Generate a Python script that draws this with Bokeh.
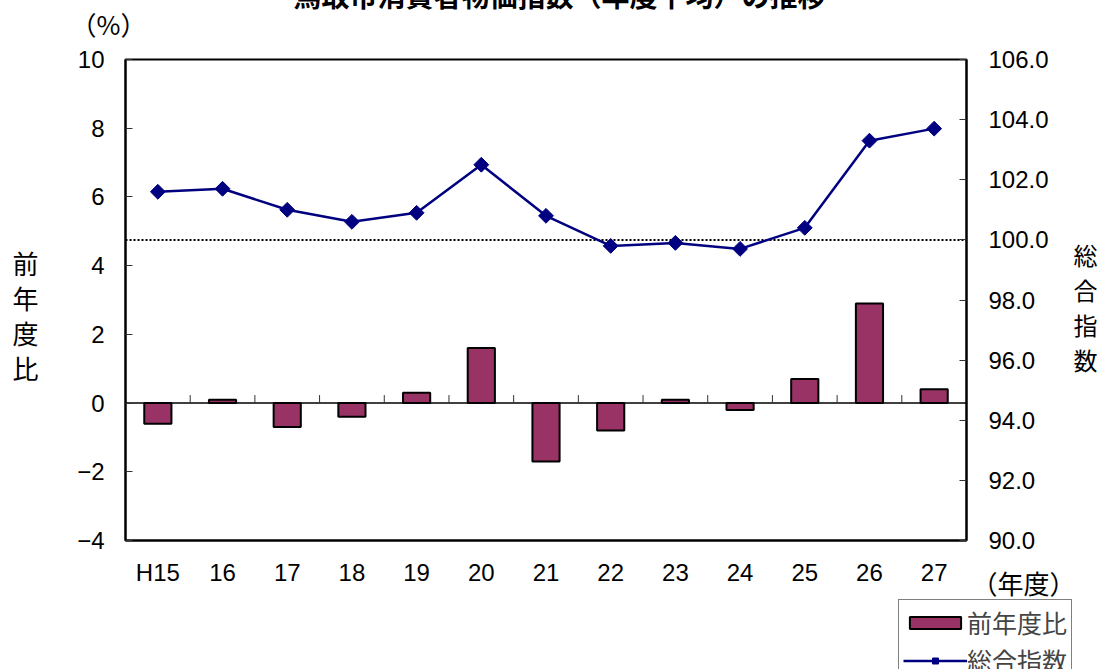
import math
from bokeh.plotting import figure
from bokeh.models import (Range1d, LinearAxis, FixedTicker, Label, Legend, LegendItem)
from bokeh.embed import file_html
from bokeh.resources import INLINE

# ---------------- data ----------------
years = ["H15", "16", "17", "18", "19", "20", "21", "22", "23", "24", "25", "26", "27"]
yoy_change = [-0.6, 0.1, -0.7, -0.4, 0.3, 1.6, -1.7, -0.8, 0.1, -0.2, 0.7, 2.9, 0.4]
composite_index = [101.6, 101.7, 101.0, 100.6, 100.9, 102.5, 100.8, 99.8, 99.9, 99.7,
                   100.4, 103.3, 103.7]
left_ticks = [-4, -2, 0, 2, 4, 6, 8, 10]
left_tick_labels = ["\u22124", "\u22122", "0", "2", "4", "6", "8", "10"]
right_ticks = [90, 92, 94, 96, 98, 100, 102, 104, 106]
right_tick_labels = ["90.0", "92.0", "94.0", "96.0", "98.0", "100.0", "102.0", "104.0", "106.0"]
baseline_index = 100
title_text = "鳥取市消費者物価指数（年度平均）の推移"
left_label = "前年度比"
right_label = "総合指数"
unit_left = "（%）"
unit_x = "（年度）"
legend_labels = ["前年度比", "総合指数"]

NUM_FONT = "Liberation Sans"
JP_FONT = "Noto Sans CJK JP"

# ---------------- layout (canvas px) ----------------
W, H = 1090, 687
PL, PR, PT, PB = 117, 958, 77, 558          # plot area inside the canvas
n = len(years)
x_pos = [i + 0.5 for i in range(n)]

# ranges chosen so that the frame covers the whole canvas and the plot area
# lands at PL..PR / PT..PB
x_ppu = (PR - PL) / n
y_lo, y_hi = left_ticks[0], left_ticks[-1]
r_lo, r_hi = right_ticks[0], right_ticks[-1]
y_ppu = (PB - PT) / (y_hi - y_lo)
r_ppu = (PB - PT) / (r_hi - r_lo)
x_range = Range1d(-PL / x_ppu, n + (W - PR) / x_ppu)
y_range = Range1d(y_lo - (H - PB) / y_ppu, y_hi + PT / y_ppu)
r_range = Range1d(r_lo - (H - PB) / r_ppu, r_hi + PT / r_ppu)

p = figure(x_range=x_range, y_range=y_range, width=W, height=H,
           output_backend="svg", toolbar_location=None,
           x_axis_location=None, y_axis_location=None,
           min_border=0, margin=(-18, 0, -8, 8))
p.extra_y_ranges = {"idx": r_range}
p.xgrid.visible = False
p.ygrid.visible = False
p.outline_line_color = None
p.background_fill_color = "white"
p.border_fill_color = "white"

# bars
bars = p.vbar(x=x_pos, top=yoy_change, width=0.42, fill_color="#993366",
              line_color="black", line_width=2)

# zero axis line and its ticks at category boundaries
p.segment(x0=[0], x1=[n], y0=[0], y1=[0], line_color="black", line_width=1.5)
tick_len = 8 / y_ppu
bounds = list(range(1, n))
p.segment(x0=bounds, x1=bounds, y0=[0] * len(bounds), y1=[tick_len] * len(bounds),
          line_color="#333333", line_width=1)

# 100 reference dotted line
p.segment(x0=[0], x1=[n], y0=[baseline_index], y1=[baseline_index], y_range_name="idx",
          line_color="black", line_width=2, line_dash="2 2")

# index line
line_r = p.line(x=x_pos, y=composite_index, y_range_name="idx", line_color="#000080",
                line_width=2.5)
pts = p.scatter(x=x_pos, y=composite_index, y_range_name="idx", marker="square",
                angle=math.pi / 4, size=10.5, fill_color="#000080", line_color="#000080")

# plot area border
p.quad(left=[0], right=[n], bottom=[y_lo], top=[y_hi], fill_color=None,
       line_color="black", line_width=2)

# axes (fixed inside the canvas-wide frame)
ya = LinearAxis(ticker=FixedTicker(ticks=left_ticks), fixed_location=0,
                bounds=(y_lo, y_hi))
ya.major_label_overrides = dict(zip(left_ticks, left_tick_labels))
ya.major_tick_in = 7
ya.major_tick_out = 0
ya.minor_tick_line_color = None
ya.axis_line_width = 2
ya.axis_line_color = "black"
ya.major_tick_line_color = "#333333"
ya.major_label_text_font = NUM_FONT
ya.major_label_text_font_size = "24px"
ya.major_label_text_color = "black"
ya.major_label_standoff = 21
p.add_layout(ya, "left")

ra = LinearAxis(y_range_name="idx", ticker=FixedTicker(ticks=right_ticks),
                fixed_location=n, bounds=(r_lo, r_hi))
ra.major_label_overrides = dict(zip(right_ticks, right_tick_labels))
ra.major_tick_in = 7
ra.major_tick_out = 0
ra.minor_tick_line_color = None
ra.axis_line_width = 2
ra.axis_line_color = "black"
ra.major_tick_line_color = "#333333"
ra.major_label_text_font = NUM_FONT
ra.major_label_text_font_size = "24px"
ra.major_label_text_color = "black"
ra.major_label_standoff = 22
p.add_layout(ra, "right")

xa = LinearAxis(ticker=FixedTicker(ticks=x_pos), fixed_location=y_lo, bounds=(0, n))
xa.major_label_overrides = dict(zip(x_pos, years))
xa.axis_line_color = "black"
xa.axis_line_width = 2
xa.major_tick_line_color = None
xa.minor_tick_line_color = None
xa.major_label_text_font = NUM_FONT
xa.major_label_text_font_size = "24px"
xa.major_label_text_color = "black"
xa.major_label_standoff = 12
p.add_layout(xa, "below")


def lbl(text, cx, cy, size, align="center", baseline="middle", style="normal"):
    p.add_layout(Label(x=cx, y=H - cy, x_units="screen", y_units="screen",
                       text=text, text_font=JP_FONT, text_font_size=size,
                       text_align=align, text_baseline=baseline,
                       text_font_style=style, text_color="black"))


lbl(title_text, 551, 12, "28px", baseline="alphabetic", style="bold")
lbl(unit_left, 100, 41, "26px")
lbl(unit_x, 1015, 600, "26px")
for i, ch in enumerate(left_label):
    lbl(ch, 17, 280 + 35 * i, "26px")
for i, ch in enumerate(right_label):
    lbl(ch, 1077, 272 + 35 * i, "24px")

legend = Legend(items=[LegendItem(label=legend_labels[0], renderers=[bars]),
                       LegendItem(label=legend_labels[1], renderers=[line_r, pts])],
                location=(890, -14), orientation="vertical",
                border_line_color="black", border_line_width=1,
                padding=4, spacing=2, glyph_width=64, glyph_height=15,
                label_standoff=0, label_text_font=JP_FONT,
                label_text_font_size="25px", label_height=26,
                background_fill_color="white", background_fill_alpha=1, margin=0)
p.add_layout(legend)

open("out.html", "w").write(file_html(p, INLINE))
